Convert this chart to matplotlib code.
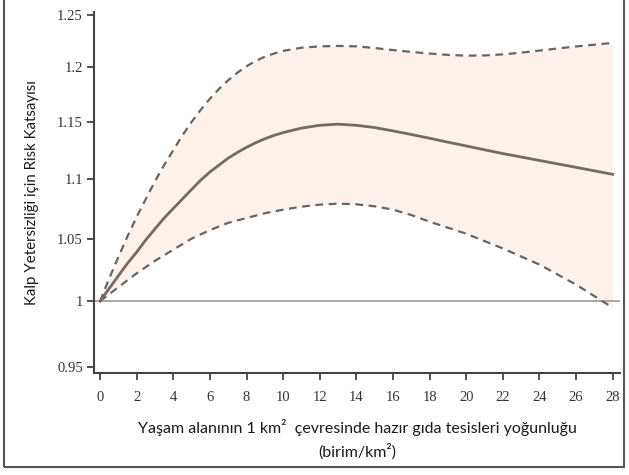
import matplotlib
matplotlib.use("Agg")
import matplotlib.pyplot as plt
from matplotlib.ticker import FixedLocator, NullLocator, FixedFormatter
from matplotlib.patches import Rectangle

x_vals = [0, 0.5, 1, 1.5, 2, 2.5, 3, 3.5, 4, 4.5, 5, 5.5, 6, 6.5, 7, 7.5, 8, 8.5, 9, 9.5, 10,
          11, 12, 13, 14, 15, 16, 17, 18, 19, 20, 21, 22, 23, 24, 25, 26, 27, 28]
hr_mid = [1.0, 1.010, 1.020, 1.030, 1.039, 1.049, 1.058, 1.067, 1.075, 1.083, 1.091, 1.099,
          1.106, 1.112, 1.118, 1.123, 1.1275, 1.1315, 1.135, 1.138, 1.1405,
          1.1445, 1.147, 1.148, 1.147, 1.145, 1.142, 1.1388, 1.1355, 1.132, 1.1287, 1.1253,
          1.122, 1.119, 1.116, 1.113, 1.110, 1.107, 1.104]
hr_upper = [1.0, 1.018, 1.035, 1.052, 1.068, 1.083, 1.098, 1.112, 1.125, 1.138, 1.150, 1.161,
            1.171, 1.180, 1.188, 1.195, 1.201, 1.206, 1.210, 1.213, 1.2155,
            1.2185, 1.2198, 1.2202, 1.2198, 1.2182, 1.2163, 1.2145, 1.213, 1.2117, 1.211, 1.2112,
            1.2122, 1.2138, 1.2158, 1.2178, 1.2197, 1.2214, 1.223]
hr_lower = [1.0, 1.0055, 1.011, 1.0165, 1.022, 1.027, 1.032, 1.0365, 1.041, 1.0455, 1.050, 1.0535,
            1.057, 1.060, 1.063, 1.065, 1.067, 1.069, 1.071, 1.0725, 1.074,
            1.0765, 1.0782, 1.079, 1.0785, 1.0768, 1.074, 1.0695, 1.064, 1.059, 1.054, 1.048,
            1.042, 1.0355, 1.029, 1.021, 1.013, 1.004, 0.995]

x_ticks = [0, 2, 4, 6, 8, 10, 12, 14, 16, 18, 20, 22, 24, 26, 28]
y_ticks = [0.95, 1.0, 1.05, 1.1, 1.15, 1.2, 1.25]
y_tick_labels = ["0.95", "1", "1.05", "1.1", "1.15", "1.2", "1.25"]

fig = plt.figure(figsize=(6.29, 4.75), dpi=100)
ax = fig.add_axes([94/629, 1 - 373/475, (620-94)/629, (373-12)/475])

ax.set_yscale("log")
ax.fill_between(x_vals, hr_lower, hr_upper, color="#fdf1ea", lw=0, zorder=1)
ax.axhline(1.0, color="#9a9a9a", lw=1.2, zorder=2)
ax.plot(x_vals, hr_upper, color="#666666", lw=1.6, ls=(0, (3.5, 2.5)), zorder=3)
ax.plot(x_vals, hr_lower, color="#666666", lw=1.6, ls=(0, (3.5, 2.5)), zorder=3)
ax.plot(x_vals, hr_mid, color="#766a64", lw=2.0, zorder=4, solid_joinstyle="round")

ax.set_xlim(-0.33, 28.4)
ax.set_ylim(0.9456, 1.2529)

ax.yaxis.set_major_locator(FixedLocator(y_ticks))
ax.yaxis.set_major_formatter(FixedFormatter(y_tick_labels))
ax.yaxis.set_minor_locator(NullLocator())
ax.set_xticks(x_ticks)
ax.set_xticklabels([str(t) for t in x_ticks])

for s in ["top", "right"]:
    ax.spines[s].set_visible(False)
for s in ["left", "bottom"]:
    ax.spines[s].set_color("#444444")
    ax.spines[s].set_linewidth(1.5)

ax.tick_params(axis="both", direction="out", length=5, width=1.3, color="#444444",
               labelcolor="#333333", labelsize=10.5)
for lbl in ax.get_xticklabels() + ax.get_yticklabels():
    lbl.set_fontfamily("Liberation Serif")
ax.tick_params(axis="x", pad=8)
ax.tick_params(axis="y", pad=3)

ax.set_xlabel("Yaşam alanının 1 km²  çevresinde hazır gıda tesisleri yoğunluğu\n(birim/km²)",
              fontfamily="Lato", fontsize=11.5, color="#1a1a1a", labelpad=11, linespacing=1.5)
ax.set_ylabel("Kalp Yetersizliği için Risk Katsayısı", fontfamily="Lato", fontsize=10.8,
              color="#1a1a1a", labelpad=13)

fig.patches.append(Rectangle((4/629, 1 - 467/475), 620/629, 470/475, transform=fig.transFigure,
                             fill=False, edgecolor="#555555", lw=1.5))

fig.savefig("out.png", dpi=100)
